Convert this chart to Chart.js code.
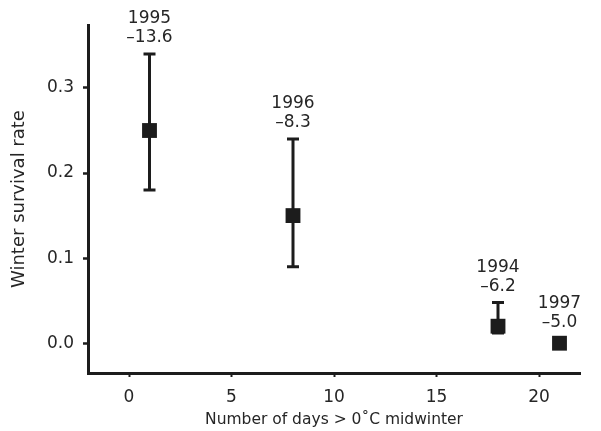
<!DOCTYPE html>
<html>
<head>
<meta charset="utf-8">
<script src="https://cdn.jsdelivr.net/npm/chart.js@4"></script>
<style>
  html, body { margin: 0; padding: 0; background: #fff; }
  #wrap { width: 601px; height: 431px; }
</style>
</head>
<body>
<div id="wrap"><canvas id="myChart" width="601" height="431"></canvas></div>
<script>
// values
const years = ['1995', '1996', '1994', '1997'];
const temps = ['\u201313.6', '\u20138.3', '\u20136.2', '\u20135.0'];
const daysAbove = [1, 8, 18, 21];
const survival = [0.25, 0.15, 0.02, 0.0];
const errLow = [0.18, 0.09, 0.012, -0.005];
const errHigh = [0.34, 0.24, 0.048, 0.006];
const xTicks = [0, 5, 10, 15, 20];
const yTicks = [0, 0.1, 0.2, 0.3];

const ink = '#1c1c1c';
const fontFam = '"DejaVu Sans", Verdana, sans-serif';

// error bars + year/temperature labels
const errorBars = {
    id: 'errorBars',
    beforeDatasetsDraw(chart) {
        const ctx = chart.ctx;
        const xs = chart.scales.x, ys = chart.scales.y;
        ctx.save();
        ctx.strokeStyle = ink;
        ctx.lineWidth = 3;
        for (let i = 0; i < daysAbove.length; i++) {
            let px = xs.getPixelForValue(daysAbove[i]);
            let top = ys.getPixelForValue(errHigh[i]);
            let bot = ys.getPixelForValue(errLow[i]);
            ctx.beginPath();
            ctx.moveTo(px, top);
            ctx.lineTo(px, bot);
            ctx.moveTo(px - 6, top);
            ctx.lineTo(px + 6, top);
            ctx.moveTo(px - 6, bot);
            ctx.lineTo(px + 6, bot);
            ctx.stroke();
        }
        ctx.restore();
    },
    afterDatasetsDraw(chart) {
        const ctx = chart.ctx;
        const xs = chart.scales.x, ys = chart.scales.y;
        ctx.save();
        ctx.fillStyle = '#262626';
        ctx.font = '17px ' + fontFam;
        ctx.textAlign = 'center';
        ctx.textBaseline = 'middle';
        for (let i = 0; i < daysAbove.length; i++) {
            let px = xs.getPixelForValue(daysAbove[i]);
            let top = ys.getPixelForValue(errHigh[i]);
            ctx.fillText(temps[i], px, top - 16);
            ctx.fillText(years[i], px, top - 35);
        }
        ctx.restore();
    }
};

const data = {
    datasets: [{
        label: 'Winter survival rate',
        data: daysAbove.map((d, i) => ({ x: d, y: survival[i] })),
        pointStyle: 'rect',
        pointRadius: 10.5,
        pointHoverRadius: 10.5,
        backgroundColor: ink,
        borderColor: ink,
        borderWidth: 0
    }]
};

const config = {
    type: 'scatter',
    data: data,
    plugins: [errorBars],
    options: {
        responsive: false,
        animation: false,
        events: [],
        layout: { padding: { left: 0, right: 21, top: 25, bottom: 0 } },
        plugins: {
            legend: { display: false },
            tooltip: { enabled: false }
        },
        scales: {
            x: {
                type: 'linear',
                min: -2,
                max: 22,
                afterFit: function(scale) { scale.height = 58; },
                afterBuildTicks: function(scale) {
                    scale.ticks = xTicks.map(v => ({ value: v }));
                },
                border: { display: true, color: ink, width: 3 },
                grid: { drawOnChartArea: false, drawTicks: true, tickLength: 4, color: ink, tickWidth: 2 },
                ticks: {
                    color: '#262626',
                    padding: 10,
                    maxRotation: 0,
                    font: { family: fontFam, size: 17 },
                    callback: function(v) { return String(v); }
                },
                title: {
                    display: true,
                    text: 'Number of days > 0\u02DAC midwinter',
                    color: '#262626',
                    font: { family: fontFam, size: 15.5 },
                    padding: { top: 0, bottom: 2 }
                }
            },
            y: {
                type: 'linear',
                min: -0.035,
                max: 0.374,
                afterFit: function(scale) { scale.width = 88; },
                afterBuildTicks: function(scale) {
                    scale.ticks = yTicks.map(v => ({ value: v }));
                },
                border: { display: true, color: ink, width: 3 },
                grid: { drawOnChartArea: false, drawTicks: true, tickLength: 5, color: ink, tickWidth: 2.5 },
                ticks: {
                    color: '#262626',
                    padding: 9,
                    font: { family: fontFam, size: 17 },
                    callback: function(v) { return v.toFixed(1); }
                },
                title: {
                    display: true,
                    text: 'Winter survival rate',
                    color: '#262626',
                    font: { family: fontFam, size: 18 },
                    padding: { top: 9, bottom: 0 }
                }
            }
        }
    }
};

const myChart = new Chart(document.getElementById('myChart'), config);
</script>
</body>
</html>
